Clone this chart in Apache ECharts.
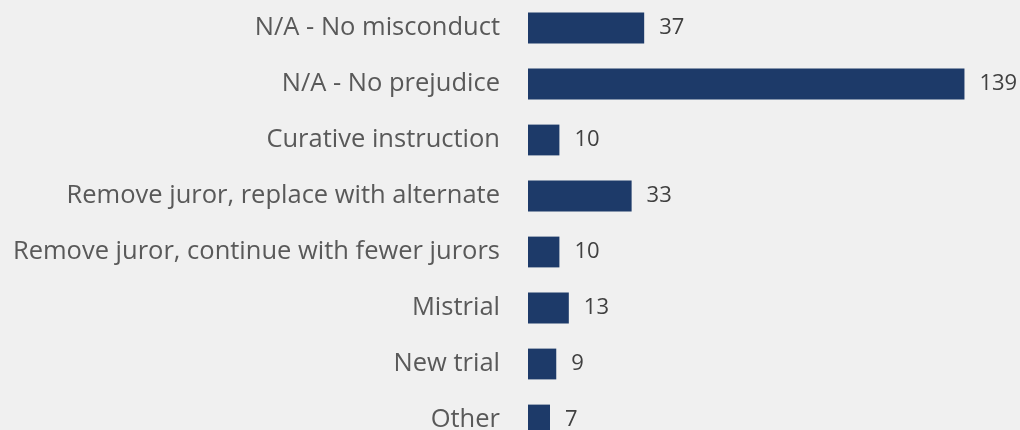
<!DOCTYPE html>
<html>
<head>
<meta charset="utf-8">
<script src="https://cdn.jsdelivr.net/npm/echarts@6/dist/echarts.min.js"></script>
<style>
  html, body { margin: 0; padding: 0; background: #f0f0f0; overflow: hidden; }
  #chart { width: 1020px; height: 448px; }
</style>
</head>
<body>
<div id="chart"></div>
<script>
var categories = [
  'N/A - No misconduct',
  'N/A - No prejudice',
  'Curative instruction',
  'Remove juror, replace with alternate',
  'Remove juror, continue with fewer jurors',
  'Mistrial',
  'New trial',
  'Other'
];
var counts = [37, 139, 10, 33, 10, 13, 9, 7];

// the last row is clipped by the 430px window, as in the original
var chart = echarts.init(document.getElementById('chart'));
chart.setOption({
  backgroundColor: '#f0f0f0',
  animation: false,
  grid: { left: 528, top: 0, width: 471, bottom: 0, containLabel: false },
  xAxis: {
    type: 'value',
    min: 0,
    max: 150,
    show: false
  },
  yAxis: {
    type: 'category',
    data: categories,
    inverse: true,
    axisLine: { show: false },
    axisTick: { show: false },
    axisLabel: {
      margin: 28,
      color: '#595959',
      fontFamily: 'Open Sans',
      fontSize: 25.5
    }
  },
  series: [{
    type: 'bar',
    data: counts,
    barCategoryGap: '45%',
    itemStyle: { color: '#1d3a69' },
    label: {
      show: true,
      position: 'right',
      distance: 15,
      color: '#404040',
      fontFamily: 'Open Sans',
      fontSize: 22
    }
  }]
});
</script>
</body>
</html>
